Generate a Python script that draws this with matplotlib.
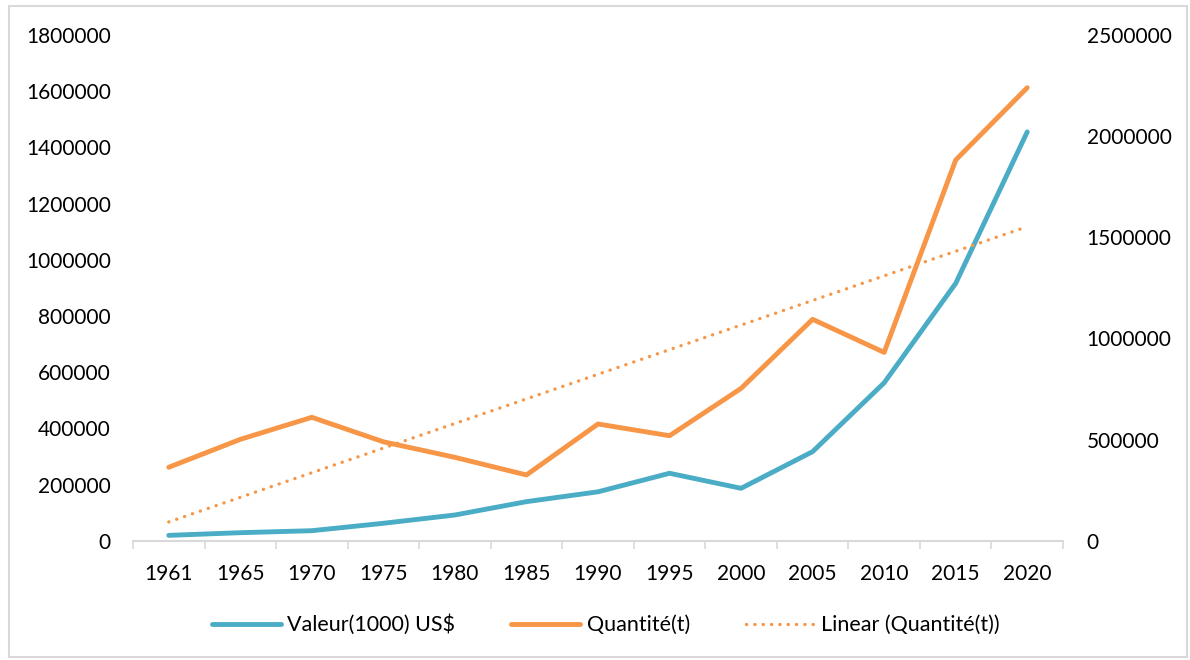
import matplotlib
matplotlib.use("Agg")
import matplotlib.pyplot as plt
import numpy as np
from matplotlib.patches import Rectangle

plt.rcParams['font.family'] = ['Lato', 'DejaVu Sans']

years = ["1961", "1965", "1970", "1975", "1980", "1985", "1990", "1995",
         "2000", "2005", "2010", "2015", "2020"]
valeur = [19000, 28500, 35600, 62000, 91500, 139000, 174000, 240000,
          186500, 317000, 562000, 916000, 1455000]
quantite = [363000, 501000, 610000, 489000, 412000, 325000, 577000, 519000,
            753000, 1094500, 931000, 1882000, 2239500]
left_ticks = [0, 200000, 400000, 600000, 800000, 1000000, 1200000, 1400000, 1600000, 1800000]
right_ticks = [0, 500000, 1000000, 1500000, 2000000, 2500000]

blue = "#4BACC6"
orange = "#F79646"
fs = 15
lfs = 15.5

fig = plt.figure(figsize=(11.9, 6.6), dpi=100)
fig.patches.append(Rectangle((9/1190, 1-657/660), (1187-9)/1190, (657-6)/660,
                             transform=fig.transFigure, fill=False,
                             edgecolor="#D9D9D9", lw=1.5))

ax = fig.add_axes([133/1190, 1-540.7/660, (1063-133)/1190, (540.7-35)/660])
ax2 = ax.twinx()

x = np.arange(len(years))
l1, = ax.plot(x, valeur, color=blue, lw=3.5, solid_capstyle='round', solid_joinstyle='round', zorder=3)
l2, = ax2.plot(x, quantite, color=orange, lw=3.5, solid_capstyle='round', solid_joinstyle='round', zorder=3)
coef = np.polyfit(x + 1, quantite, 1)
trend = np.polyval(coef, x + 1)
l3, = ax2.plot(x, trend, color=orange, lw=2.4, linestyle=(0, (0.05, 2.45)),
               dash_capstyle='round', zorder=2)

ax.set_xlim(-0.5, len(years) - 0.5)
ax.set_ylim(0, 1800000)
ax2.set_ylim(0, 2500000)
ax.set_yticks(left_ticks)
ax.set_yticklabels([str(v) for v in left_ticks])
ax2.set_yticks(right_ticks)
ax2.set_yticklabels([str(v) for v in right_ticks])

ax.set_xticks(x)
ax.set_xticklabels(years)
ax.set_xticks(np.arange(-0.5, len(years), 1), minor=True)
ax.tick_params(axis='x', which='major', length=0, labelsize=fs, pad=17)
ax.tick_params(axis='x', which='minor', length=6, width=1.2, color="#D9D9D9", direction='out')
ax.tick_params(axis='y', length=0, labelsize=fs, pad=16)
ax2.tick_params(axis='y', length=0, labelsize=fs, pad=17)

for a in (ax, ax2):
    for s in ("top", "left", "right"):
        a.spines[s].set_visible(False)
ax.spines["bottom"].set_color("#D9D9D9")
ax.spines["bottom"].set_linewidth(1.5)
ax2.spines["bottom"].set_visible(False)

fig.legend([l1, l2, l3], ["Valeur(1000) US$", "Quantité(t)", "Linear (Quantité(t))"],
           loc='center', bbox_to_anchor=(606/1190, 1-625/660), ncol=3, frameon=False,
           fontsize=lfs, handlelength=3.2, handletextpad=0.3, columnspacing=2.6)

fig.savefig("out.png", dpi=100)
